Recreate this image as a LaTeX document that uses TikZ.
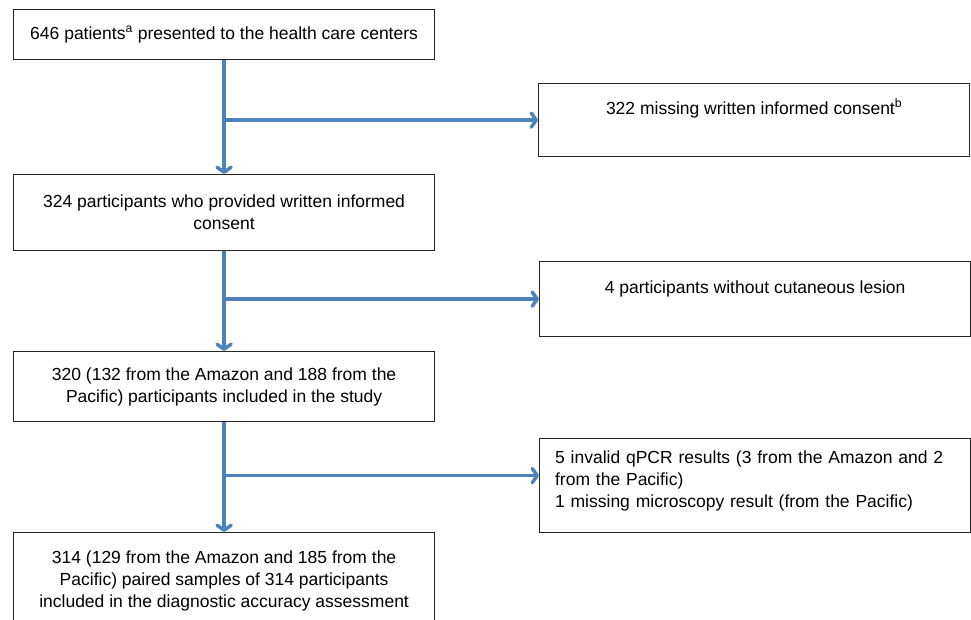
\documentclass[tikz,border=0pt]{standalone}
\usepackage{fontspec}
\setmainfont{Liberation Sans}
\usetikzlibrary{positioning, arrows.meta}
\definecolor{flowblue}{RGB}{79,129,189}

\begin{document}
\begin{tikzpicture}[x=1pt, y=-1pt,
        every node/.style={font=\fontsize{17.5}{22}\selectfont},
        box/.style={draw=black!85, line width=1.2pt, anchor=north west, inner sep=0pt, align=center},
        leftbox/.style={box, minimum width=421pt},
        sidebox/.style={box, minimum width=431pt},
        flow/.style={draw=flowblue, line width=3.5pt, -{Straight Barb[length=5pt, width=14pt, round]}}]

        \clip (0,0) rectangle (971,619);

        % main column
        \node[leftbox, minimum height=50pt] (patients) at (13,9)
            {646 patients\textsuperscript{a} presented to the health care centers};
        \node[leftbox, minimum height=76pt] (consent) at (13,174)
            {324 participants who provided written informed\\consent};
        \node[leftbox, minimum height=70pt] (included) at (13,351)
            {320 (132 from the Amazon and 188 from the\\Pacific) participants included in the study};
        \node[leftbox, minimum height=97pt] (paired) at (13,532)
            {314 (129 from the Amazon and 185 from the\\Pacific) paired samples of 314 participants\\included in the diagnostic accuracy assessment};

        % excluded
        \node[sidebox, minimum height=73pt, text depth=27pt] (noconsent) at (538,83)
            {322 missing written informed consent\textsuperscript{b}};
        \node[sidebox, minimum height=75pt, text depth=23pt] (nolesion) at (539,261)
            {4 participants without cutaneous lesion};
        \node[sidebox, minimum height=94pt, text depth=56pt, align=left, text width=400pt, inner xsep=15pt] (invalid) at (539,438)
            {5 invalid qPCR results (3 from the Amazon and 2\\from the Pacific)\\1 missing microscopy result (from the Pacific)};

        \draw[flow] (patients.south) -- (consent.north);
        \draw[flow] (consent.south) -- (included.north);
        \draw[flow] (included.south) -- (paired.north);

        \coordinate (t3) at ([yshift=10pt]invalid.west);
        \draw[flow] (patients.south |- noconsent.west) -- (noconsent.west);
        \draw[flow] (consent.south |- nolesion.west) -- (nolesion.west);
        \draw[flow] (included.south |- t3) -- (t3);

\end{tikzpicture}
\end{document}
